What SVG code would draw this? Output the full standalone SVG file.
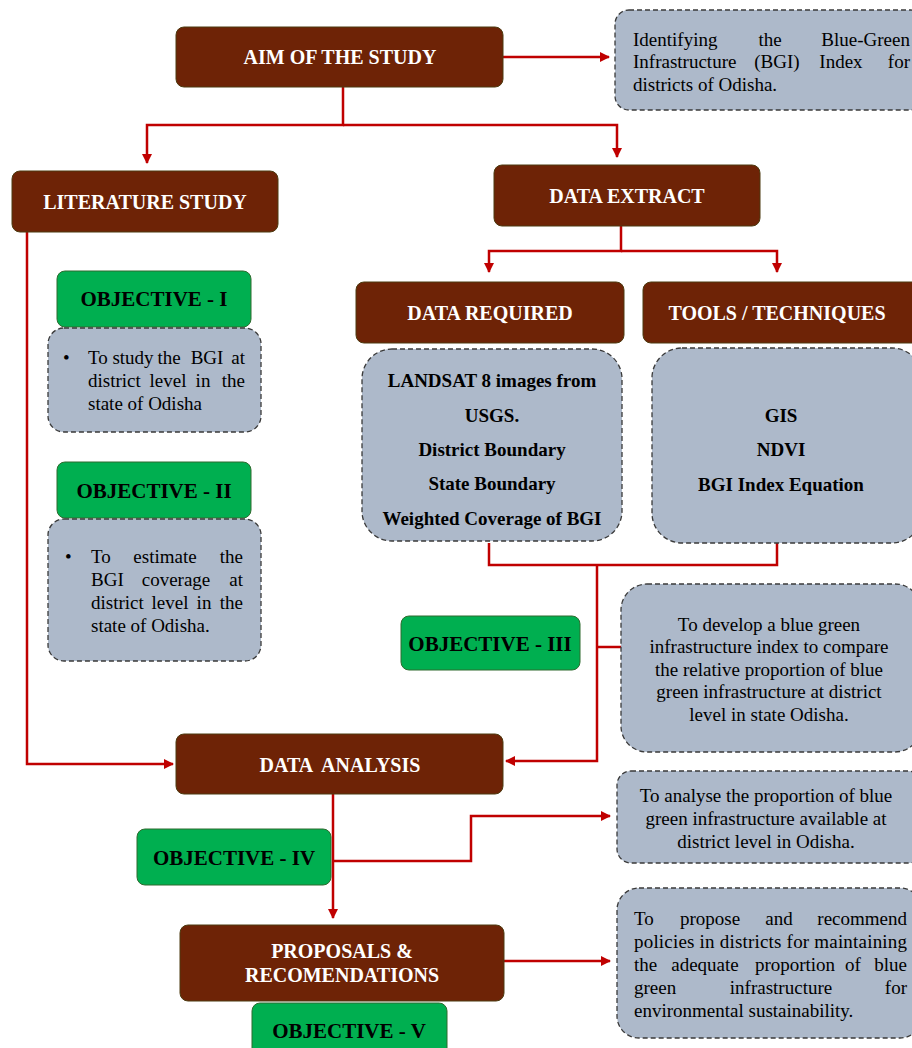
<svg xmlns="http://www.w3.org/2000/svg" width="912" height="1048" viewBox="0 0 912 1048">
<style>
.brown{fill:#6E2306;stroke:#4d3b10;stroke-width:1}
.green{fill:#00AF50;stroke:#2f6b2f;stroke-width:1}
.desc{fill:#ADB9CA;stroke:#3a3a3a;stroke-width:1.3;stroke-dasharray:5 3}
.ht{font-family:"Liberation Serif",serif;font-weight:bold;font-size:20px;fill:#ffffff;text-anchor:middle}
.ot{font-family:"Liberation Serif",serif;font-weight:bold;font-size:21px;fill:#000000;text-anchor:middle}
.bt{font-family:"Liberation Serif",serif;font-weight:bold;font-size:19px;fill:#000000;text-anchor:middle}
.t{font-family:"Liberation Serif",serif;font-size:19px;fill:#000000}
.c{text-anchor:middle}
.e{text-anchor:end}
.conn{fill:none;stroke:#C00000;stroke-width:2.5}
</style>
<defs>
<marker id="ah" viewBox="0 0 10 10" refX="9" refY="5" markerWidth="4" markerHeight="4" orient="auto" markerUnits="strokeWidth">
<path d="M0 0 L10 5 L0 10 z" fill="#C00000"/>
</marker>
</defs>

<g id="connectors">
<path class="conn" d="M503 57 H609" marker-end="url(#ah)"/>
<path class="conn" d="M343 87 V125 H147 V163" marker-end="url(#ah)"/>
<path class="conn" d="M343 125 H617 V157" marker-end="url(#ah)"/>
<path class="conn" d="M27 232 V764 H173" marker-end="url(#ah)"/>
<path class="conn" d="M621 226 V251 H489 V272" marker-end="url(#ah)"/>
<path class="conn" d="M621 251 H777 V272" marker-end="url(#ah)"/>
<path class="conn" d="M489 543 V565 H777 V543"/>
<path class="conn" d="M597 565 V761 H506" marker-end="url(#ah)"/>
<path class="conn" d="M597 647 H621"/>
<path class="conn" d="M333 794 V918" marker-end="url(#ah)"/>
<path class="conn" d="M333 861 H471 V816 H610" marker-end="url(#ah)"/>
<path class="conn" d="M504 961 H610" marker-end="url(#ah)"/>
</g>

<g id="aim">
<rect class="brown" x="176" y="27" width="327" height="60" rx="8"/>
<text class="ht" x="340" y="64">AIM OF THE STUDY</text>
</g>
<g id="aim-desc">
<rect class="desc" x="615" y="10" width="310" height="100" rx="14"/>
<text class="t" x="633" y="46">Identifying</text>
<text class="t c" x="770" y="46">the</text>
<text class="t e" x="910" y="46">Blue-Green</text>
<text class="t" x="633" y="68">Infrastructure</text>
<text class="t c" x="777" y="68">(BGI)</text>
<text class="t c" x="841" y="68">Index</text>
<text class="t e" x="910" y="68">for</text>
<text class="t" x="633" y="91">districts of Odisha.</text>
</g>

<g id="literature">
<rect class="brown" x="12" y="171" width="266" height="61" rx="8"/>
<text class="ht" x="145" y="209">LITERATURE STUDY</text>
</g>
<g id="data-extract">
<rect class="brown" x="494" y="165" width="266" height="61" rx="8"/>
<text class="ht" x="627" y="203">DATA EXTRACT</text>
</g>

<g id="obj1">
<rect class="green" x="57" y="271" width="194" height="56" rx="8"/>
<text class="ot" x="154" y="306">OBJECTIVE - I</text>
</g>
<g id="obj1-desc">
<rect class="desc" x="48" y="328" width="213" height="104" rx="16"/>
<text class="t" x="63" y="364">•</text>
<text class="t" x="88" y="364">To</text>
<text class="t c" x="133" y="364">study</text>
<text class="t c" x="169" y="364">the</text>
<text class="t c" x="207" y="364">BGI</text>
<text class="t e" x="245" y="364">at</text>
<text class="t" x="88" y="387">district</text>
<text class="t c" x="168" y="387">level</text>
<text class="t c" x="203" y="387">in</text>
<text class="t e" x="245" y="387">the</text>
<text class="t" x="88" y="410">state of Odisha</text>
</g>

<g id="obj2">
<rect class="green" x="57" y="462" width="194" height="56" rx="8"/>
<text class="ot" x="154" y="498">OBJECTIVE - II</text>
</g>
<g id="obj2-desc">
<rect class="desc" x="48" y="519" width="213" height="142" rx="16"/>
<text class="t" x="65" y="563">•</text>
<text class="t" x="91" y="563">To</text>
<text class="t c" x="165" y="563">estimate</text>
<text class="t e" x="243" y="563">the</text>
<text class="t" x="91" y="586">BGI</text>
<text class="t c" x="176" y="586">coverage</text>
<text class="t e" x="243" y="586">at</text>
<text class="t" x="91" y="609">district</text>
<text class="t c" x="170" y="609">level</text>
<text class="t c" x="204" y="609">in</text>
<text class="t e" x="243" y="609">the</text>
<text class="t" x="91" y="632">state of Odisha.</text>
</g>

<g id="data-required">
<rect class="brown" x="356" y="282" width="268" height="61" rx="8"/>
<text class="ht" x="490" y="320">DATA REQUIRED</text>
</g>
<g id="tools">
<rect class="brown" x="643" y="282" width="280" height="61" rx="8"/>
<text class="ht" x="777" y="320">TOOLS / TECHNIQUES</text>
</g>
<g id="data-required-desc">
<rect class="desc" x="362" y="349" width="260" height="192" rx="30"/>
<text class="bt" x="492" y="387">LANDSAT 8 images from</text>
<text class="bt" x="492" y="422">USGS.</text>
<text class="bt" x="492" y="456">District Boundary</text>
<text class="bt" x="492" y="490">State Boundary</text>
<text class="bt" x="492" y="525">Weighted Coverage of BGI</text>
</g>
<g id="tools-desc">
<rect class="desc" x="652" y="348" width="270" height="195" rx="30"/>
<text class="bt" x="781" y="422">GIS</text>
<text class="bt" x="781" y="456">NDVI</text>
<text class="bt" x="781" y="491">BGI Index Equation</text>
</g>

<g id="obj3">
<rect class="green" x="401" y="616" width="179" height="54" rx="8"/>
<text class="ot" x="490" y="651">OBJECTIVE - III</text>
</g>
<g id="obj3-desc">
<rect class="desc" x="621" y="584" width="300" height="168" rx="26"/>
<text class="t c" x="769" y="631">To develop a blue green</text>
<text class="t c" x="769" y="653">infrastructure index to compare</text>
<text class="t c" x="769" y="676">the relative proportion of blue</text>
<text class="t c" x="769" y="698">green infrastructure at district</text>
<text class="t c" x="769" y="721">level in state Odisha.</text>
</g>

<g id="data-analysis">
<rect class="brown" x="176" y="734" width="327" height="60" rx="8"/>
<text class="ht" x="340" y="772" xml:space="preserve">DATA  ANALYSIS</text>
</g>

<g id="obj4">
<rect class="green" x="137" y="829" width="194" height="56" rx="8"/>
<text class="ot" x="234" y="865">OBJECTIVE - IV</text>
</g>
<g id="obj4-desc">
<rect class="desc" x="617" y="771" width="305" height="92" rx="14"/>
<text class="t c" x="766" y="802">To analyse the proportion of blue</text>
<text class="t c" x="766" y="825">green infrastructure available at</text>
<text class="t c" x="766" y="848">district level in Odisha.</text>
</g>

<g id="proposals">
<rect class="brown" x="180" y="925" width="324" height="76" rx="8"/>
<text class="ht" x="342" y="958">PROPOSALS &amp;</text>
<text class="ht" x="342" y="982">RECOMENDATIONS</text>
</g>
<g id="obj5">
<rect class="green" x="252" y="1003" width="195" height="56" rx="8"/>
<text class="ot" x="349" y="1038">OBJECTIVE - V</text>
</g>
<g id="obj5-desc">
<rect class="desc" x="617" y="888" width="305" height="150" rx="22"/>
<text class="t" x="634" y="925">To</text>
<text class="t c" x="710" y="925">propose</text>
<text class="t c" x="779" y="925">and</text>
<text class="t e" x="907" y="925">recommend</text>
<text class="t" x="634" y="948" textLength="273" lengthAdjust="spacing">policies in districts for maintaining</text>
<text class="t" x="634" y="971">the</text>
<text class="t c" x="705" y="971">adequate</text>
<text class="t c" x="795" y="971">proportion</text>
<text class="t c" x="853" y="971">of</text>
<text class="t e" x="907" y="971">blue</text>
<text class="t" x="634" y="994">green</text>
<text class="t c" x="781" y="994">infrastructure</text>
<text class="t e" x="907" y="994">for</text>
<text class="t" x="634" y="1017">environmental sustainability.</text>
</g>
</svg>
